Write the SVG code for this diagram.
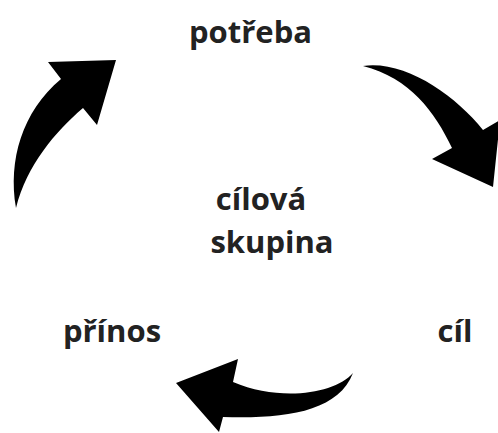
<svg xmlns="http://www.w3.org/2000/svg" width="498" height="433" viewBox="0 0 498 433">
<style>
.lbl{font-family:"Open Sans","Noto Sans","Liberation Sans",sans-serif;font-weight:700;font-size:31px;fill:#222}
.arr{fill:#000}
</style>
<rect width="498" height="433" fill="#fff"/>
<g id="connectors">
<path class="arr" d="M16 208 C8 160 22 112 61 79 L48 62 L116 60 L97 125 L83 108 C55 132 27 165 16 208 Z"/>
<path class="arr" d="M363 66 C405 60 455 95 483 130 L500 120 L493 187 L432 159 L452 148 C435 112 410 78 363 66 Z"/>
<path class="arr" d="M353 373 C335 394 280 402 233 382 L238 359 L176 383 L219 432 L223 417 C285 419 338 412 353 373 Z"/>
</g>
<g id="potreba"><text class="lbl" x="250.5" y="43" text-anchor="middle">potřeba</text></g>
<g id="cilova-skupina"><text class="lbl" x="261" y="210" text-anchor="middle">cílová</text><text class="lbl" x="272" y="253" text-anchor="middle">skupina</text></g>
<g id="prinos"><text class="lbl" x="112" y="342" text-anchor="middle">přínos</text></g>
<g id="cil"><text class="lbl" x="455" y="342" text-anchor="middle">cíl</text></g>
</svg>
